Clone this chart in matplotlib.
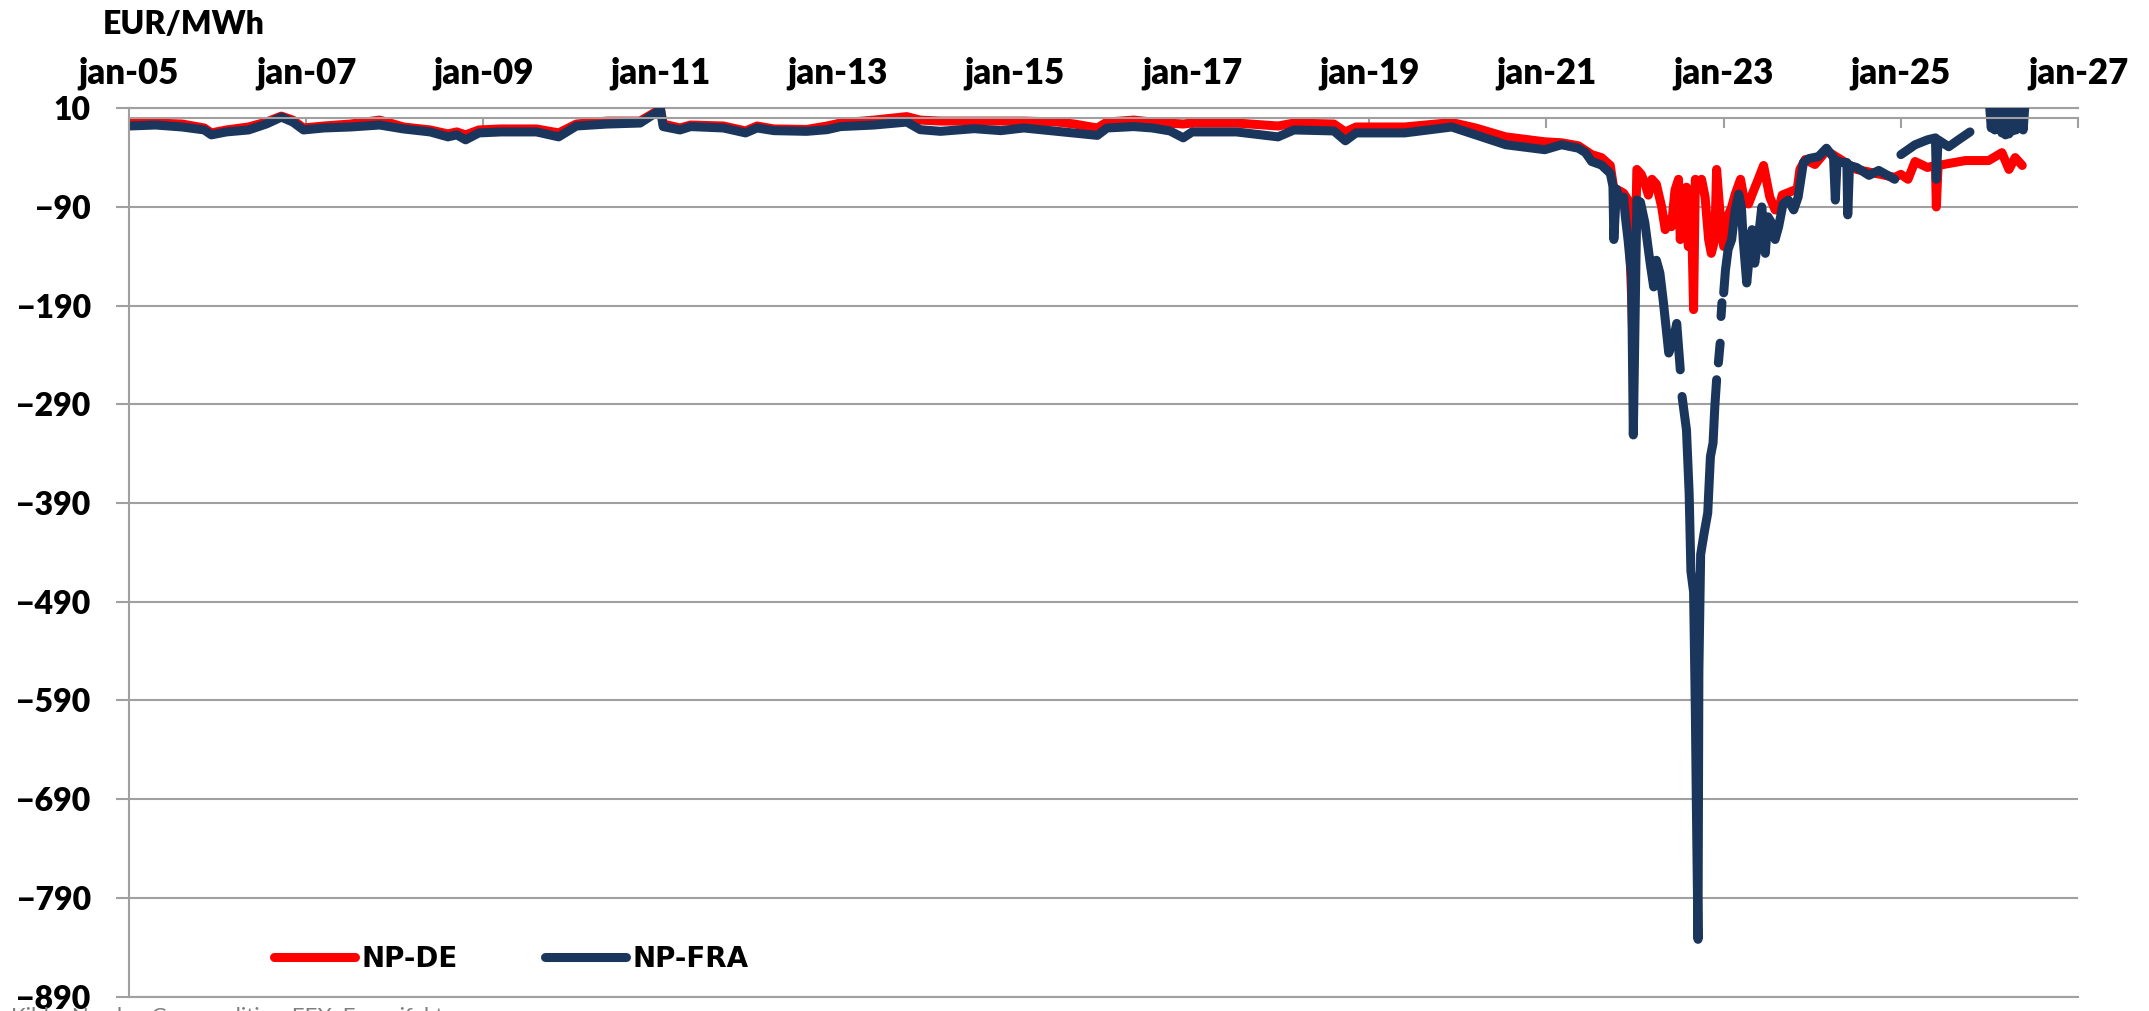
import matplotlib.pyplot as plt
import numpy as np

plt.rcParams['font.family'] = ['Lato', 'DejaVu Sans']

# NP-DE (rød), år som desimaltall
de_aar = [2005.00, 2005.30, 2005.60, 2005.85, 2005.93, 2006.10, 2006.35, 2006.55, 2006.72, 2006.85,
          2006.97, 2007.20, 2007.50, 2007.83, 2008.10, 2008.40, 2008.60, 2008.70, 2008.80, 2008.95,
          2009.20, 2009.60, 2009.85, 2010.05, 2010.40, 2010.77, 2010.94, 2011.00, 2011.03, 2011.22,
          2011.34, 2011.71, 2011.96, 2012.09, 2012.28, 2012.65, 2012.88, 2013.03, 2013.41, 2013.78,
          2013.93, 2014.16, 2014.54, 2014.84, 2015.10, 2015.48, 2015.67, 2015.93, 2016.04, 2016.34,
          2016.55, 2016.90, 2017.00, 2017.50, 2017.97, 2018.15, 2018.60, 2018.73, 2018.85, 2019.40,
          2019.93, 2020.20, 2020.54, 2020.98, 2021.17, 2021.36, 2021.51, 2021.62, 2021.72, 2021.76,
          2021.79, 2021.83, 2021.87, 2021.92, 2021.96, 2021.98, 2022.02, 2022.07, 2022.11, 2022.15,
          2022.19, 2022.24, 2022.30, 2022.34, 2022.38, 2022.41, 2022.45, 2022.49, 2022.51, 2022.54,
          2022.58, 2022.60, 2022.64, 2022.66, 2022.68, 2022.71, 2022.75, 2022.79, 2022.83, 2022.86,
          2022.90, 2022.92, 2022.96, 2023.00, 2023.03, 2023.09, 2023.13, 2023.19, 2023.22, 2023.28,
          2023.34, 2023.39, 2023.45, 2023.49, 2023.52, 2023.58, 2023.62, 2023.66, 2023.77, 2023.83,
          2023.86, 2023.92, 2024.03, 2024.16, 2024.50, 2024.93, 2025.00, 2025.08, 2025.16, 2025.30,
          2025.39, 2025.40, 2025.42, 2025.54, 2025.73, 2025.99, 2026.14, 2026.22, 2026.29, 2026.37]
de_verdi = [-5, -5, -6, -10, -15, -12, -9, -4, 2, -2,
            -10, -8, -6, -2, -9, -12, -16, -14, -17, -12,
            -11, -11, -15, -6, -3, -3, 6, 9, -6, -10,
            -7, -8, -13, -8, -11, -11.5, -8, -5, -2, 1.5,
            -2, -3, -3, -3, -3, -4, -6, -10, -4, -2,
            -4, -6, -5, -5, -8, -5, -6, -14, -9, -9,
            -4.5, -10, -19, -24, -25, -28, -37, -40, -48, -72,
            -72, -74, -76, -83, -180, -240, -52, -57, -66, -78,
            -62, -67, -90, -113, -103, -110, -73, -62, -123, -80,
            -70, -130, -110, -194, -62, -66, -62, -80, -123, -137,
            -123, -52, -98, -130, -103, -90, -77, -62, -77, -87,
            -73, -62, -48, -66, -80, -93, -93, -78, -74, -72,
            -52, -42, -47, -33, -52, -60, -57, -62, -44, -50,
            -48, -90, -48, -46, -43, -43, -35, -52, -40, -48]

# NP-FRA (blå), nan = hull i serien
fra_aar = [2005.00, 2005.30, 2005.60, 2005.85, 2005.93, 2006.10, 2006.35, 2006.55, 2006.72, 2006.85,
           2006.97, 2007.20, 2007.50, 2007.83, 2008.10, 2008.40, 2008.60, 2008.70, 2008.80, 2008.95,
           2009.20, 2009.60, 2009.85, 2010.05, 2010.40, 2010.77, 2010.94, 2011.00, 2011.03, 2011.22,
           2011.34, 2011.71, 2011.96, 2012.09, 2012.28, 2012.65, 2012.88, 2013.03, 2013.41, 2013.78,
           2013.93, 2014.16, 2014.54, 2014.84, 2015.10, 2015.48, 2015.93, 2016.04, 2016.34, 2016.55,
           2016.75, 2016.90, 2017.00, 2017.50, 2017.97, 2018.15, 2018.60, 2018.73, 2018.85, 2019.40,
           2019.93, 2020.20, 2020.54, 2020.98, 2021.17, 2021.36, 2021.44, 2021.51, 2021.62, 2021.72,
           2021.75, 2021.76, 2021.79, 2021.83, 2021.87, 2021.89, 2021.92, 2021.96, 2021.98, 2022.02,
           2022.06, 2022.11, 2022.17, 2022.21, 2022.24, 2022.28, 2022.32, 2022.38, 2022.43, 2022.47,
           2022.51, 2022.52, 2022.53, 2022.58, 2022.61, 2022.63, 2022.66, 2022.67, 2022.68, 2022.69,
           2022.71, 2022.72, 2022.74, 2022.78, 2022.82, 2022.85, 2022.88, 2022.90, 2022.92, 2022.93,
           2022.94, 2022.96, 2022.965, 2022.97, 2022.98, 2022.99, 2023.00, 2023.02, 2023.05, 2023.09,
           2023.13, 2023.17, 2023.20, 2023.22, 2023.26, 2023.30, 2023.32, 2023.35, 2023.39, 2023.43,
           2023.47, 2023.50, 2023.54, 2023.58, 2023.62, 2023.67, 2023.73, 2023.79, 2023.84, 2023.90,
           2023.96, 2024.07, 2024.16, 2024.24, 2024.26, 2024.28, 2024.33, 2024.39, 2024.40, 2024.42,
           2024.50, 2024.64, 2024.75, 2024.93, 2024.96, 2025.00, 2025.16, 2025.30, 2025.39, 2025.40,
           2025.42, 2025.54, 2025.65, 2025.78, 2025.90,
           2026.00, 2026.02, 2026.04, 2026.06, 2026.08, 2026.10, 2026.12, 2026.14, 2026.16, 2026.18,
           2026.20, 2026.22, 2026.24, 2026.26, 2026.28, 2026.30, 2026.32, 2026.34, 2026.36, 2026.38,
           2026.40]
fra_verdi = [-8, -7, -9, -12, -17, -14, -12, -6, 1, -4,
             -12, -10, -9, -7, -11, -14, -19, -17, -22, -15,
             -14, -14, -19, -8, -6, -5, 5, 8.5, -8.6, -12,
             -8.6, -10, -15, -10, -12.7, -13.4, -11.7, -8.6, -7, -4,
             -11.7, -13.4, -10.7, -12.7, -10, -13.4, -17.5, -10, -8.6, -10,
             -13, -20, -14, -14, -19, -12, -13, -23, -15, -15,
             -9, -17, -27, -32, -27, -30.5, -35, -44, -47.5, -56,
             -69, -123, -72, -83, -80, -100, -123, -160, -321, -83,
             -85, -106, -147, -171, -144, -157, -187, -238, -225, -208,
             -255, np.nan, -282, -316, -380, -459, -480, -540, -600, -684,
             -832, -560, -442, -420, -400, -343, -329, -292, -265, np.nan,
             -248, -228, np.nan, -201, -187, np.nan, -177, -154, -133, -123,
             -93, -77, -90, -123, -167, -130, -113, -147, -123, -90,
             -137, -100, -106, -123, -110, -87, -83, -93, -80, -45,
             -41, -39, -30.5, -40, -83, -43, -45, -45, -98, -48,
             -50, -58, -53, -62, np.nan, -37, -27, -22, -20, -62,
             -22, -29, -22, -14, np.nan,
             14, -10, 14, -12, 14, -11, 14, -15, 14, -17,
             14, -16, 14, -13, 14, -12, 14, -10, 14, -12,
             14]

tick_aar = [2005, 2007, 2009, 2011, 2013, 2015, 2017, 2019, 2021, 2023, 2025, 2027]
tick_tekst = ['jan-05', 'jan-07', 'jan-09', 'jan-11', 'jan-13', 'jan-15', 'jan-17', 'jan-19',
              'jan-21', 'jan-23', 'jan-25', 'jan-27']
y_ticks = [10, -90, -190, -290, -390, -490, -590, -690, -790, -890]

graa = '#A0A0A0'

fig = plt.figure(figsize=(21.49, 10.11), dpi=100)
ax = fig.add_axes([0.0600, 0.01424, 0.9070, 0.8787])

ax.plot(de_aar, de_verdi, color='#FF0000', lw=6.5, label='NP-DE',
        solid_capstyle='round', solid_joinstyle='round')
ax.plot(fra_aar, fra_verdi, color='#1B365D', lw=6.5, label='NP-FRA',
        solid_capstyle='round', solid_joinstyle='round')

ax.set_xlim(2005, 2027)
ax.set_ylim(-890, 10)
ax.set_yticks(y_ticks)
ax.set_xticks(tick_aar)
ax.set_xticklabels(tick_tekst)

ax.set_axisbelow(True)
ax.yaxis.grid(True, color=graa, lw=1.5)
ax.axhline(10, color=graa, lw=1.5, clip_on=False, zorder=0)

# x-aksen ligger ved 0, etiketter over
ax.spines['top'].set_position(('data', 0))
ax.spines['top'].set_color(graa)
ax.spines['top'].set_linewidth(1.5)
ax.spines['left'].set_color(graa)
ax.spines['left'].set_linewidth(1.5)
ax.spines['bottom'].set_color(graa)
ax.spines['bottom'].set_linewidth(1.5)
ax.spines['right'].set_visible(False)
ax.xaxis.set_ticks_position('top')
ax.tick_params(axis='x', direction='in', length=7.2, width=1.5, color=graa,
               pad=20.5, labelsize=25, labeltop=True, labelbottom=False)
ax.tick_params(axis='y', direction='out', length=9.5, width=1.5, color=graa,
               pad=18, labelsize=23)
plt.setp(ax.get_xticklabels(), fontweight='heavy')
plt.setp(ax.get_yticklabels(), fontweight='heavy')

fig.text(103 / 2149, 1 - 25 / 1011, 'EUR/MWh', fontsize=23, fontweight='heavy', va='center')

ax.legend(loc='center left', bbox_to_anchor=(274 / 2149, 1 - 959 / 1011),
          bbox_transform=fig.transFigure, ncol=2, frameon=False,
          handlelength=2.9, handletextpad=0.25, columnspacing=3.15,
          borderpad=0, borderaxespad=0,
          prop={'family': 'DejaVu Sans', 'weight': 'bold', 'size': 20})

fig.text(11 / 2149, 1 - 1007 / 1011, 'Kilde: Nasdaq Commodities, EEX, Energifakta',
         fontsize=16, color='#7F7F7F', va='top')

plt.savefig('out.png', dpi=100)
